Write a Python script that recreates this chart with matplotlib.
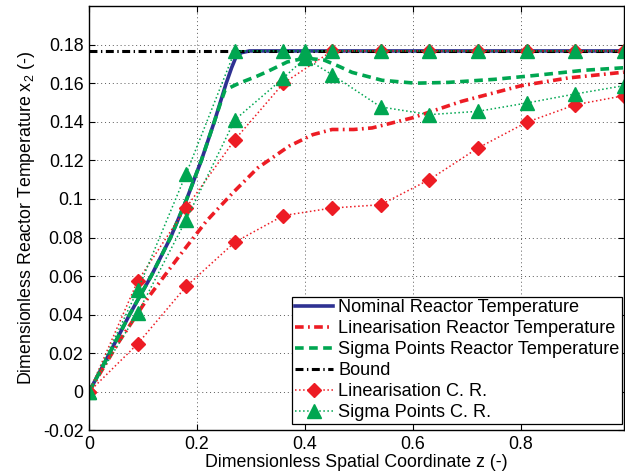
import matplotlib
matplotlib.use('Agg')
import matplotlib.pyplot as plt

plt.rcParams['font.family'] = ['Liberation Sans', 'DejaVu Sans']
plt.rcParams['mathtext.fontset'] = 'custom'
plt.rcParams['mathtext.rm'] = 'Liberation Sans'
plt.rcParams['mathtext.it'] = 'Liberation Sans:italic'

# nominal reactor temperature
z_nom = [0, 0.038, 0.075, 0.115, 0.151, 0.181, 0.208, 0.232, 0.254, 0.264, 0.272, 0.282, 0.297, 0.99]
nominal = [0, 0.02, 0.04, 0.06, 0.08, 0.10, 0.12, 0.14, 0.16, 0.168, 0.1735, 0.1758, 0.1767, 0.1767]

# linearisation reactor temperature
z_lin = [0, 0.054, 0.109, 0.169, 0.217, 0.266, 0.312, 0.37, 0.414, 0.45, 0.49, 0.524, 0.598, 0.69, 0.80, 0.887, 0.99]
lin_temp = [0, 0.0254, 0.0487, 0.0711, 0.0884, 0.1031, 0.116, 0.1273, 0.1333, 0.136, 0.136, 0.1368, 0.142, 0.1506, 0.1587, 0.1627, 0.1657]

# sigma points reactor temperature
z_sp = [0, 0.038, 0.075, 0.115, 0.151, 0.181, 0.208, 0.232, 0.245, 0.252, 0.278, 0.31, 0.33, 0.367, 0.40, 0.435,
        0.463, 0.487, 0.5425, 0.604, 0.665, 0.751, 0.825, 0.917, 0.99]
sp_temp = [0, 0.02, 0.04, 0.06, 0.08, 0.10, 0.12, 0.14, 0.151, 0.1565, 0.160, 0.1635, 0.166, 0.171, 0.173, 0.172,
           0.1687, 0.1656, 0.1615, 0.160, 0.1604, 0.162, 0.164, 0.1667, 0.168]

bound_z = [0, 0.99]
bound = [0.1767, 0.1767]

# confidence regions
z_lcr = [0, 0.09, 0.18, 0.27, 0.36, 0.45, 0.54, 0.63, 0.72, 0.81, 0.90, 0.99]
lin_upper = [0, 0.0574, 0.0955, 0.1307, 0.160, 0.1767, 0.1767, 0.1767, 0.1767, 0.1767, 0.1767, 0.1767]
lin_lower = [0, 0.0249, 0.0547, 0.0776, 0.0914, 0.0953, 0.097, 0.110, 0.1264, 0.1397, 0.1488, 0.1535]

z_scr = [0, 0.09, 0.18, 0.27, 0.36, 0.40, 0.45, 0.54, 0.63, 0.72, 0.81, 0.90, 0.99]
sp_upper = [0, 0.0527, 0.1131, 0.1767, 0.1767, 0.1767, 0.1767, 0.1767, 0.1767, 0.1767, 0.1767, 0.1767, 0.1767]
sp_lower = [0, 0.0408, 0.0893, 0.141, 0.1627, 0.173, 0.1644, 0.1477, 0.1437, 0.1454, 0.1497, 0.1544, 0.1587]

xticks = [0, 0.2, 0.4, 0.6, 0.8]
xtick_labels = ['0', '0.2', '0.4', '0.6', '0.8']
yticks = [-0.02, 0, 0.02, 0.04, 0.06, 0.08, 0.1, 0.12, 0.14, 0.16, 0.18]
ytick_labels = ['-0.02', '0', '0.02', '0.04', '0.06', '0.08', '0.1', '0.12', '0.14', '0.16', '0.18']

blue = '#2e3192'
red = '#ed1c24'
green = '#00a651'
fs = 12.8

fig = plt.figure(figsize=(6.25, 4.76), dpi=100)
ax = fig.add_axes([0.1424, 0.0956, 0.8556, 0.8918])

ax.plot(z_nom, nominal, color=blue, lw=2.6, label='Nominal Reactor Temperature')
ax.plot(z_lin, lin_temp, color=red, lw=2.6, linestyle=(0, (2.4, 1.2, 0.5, 1.2)),
        label='Linearisation Reactor Temperature')
ax.plot(z_sp, sp_temp, color=green, lw=2.6, linestyle=(0, (2.4, 1.5)),
        label='Sigma Points Reactor Temperature')
ax.plot(bound_z, bound, color='black', lw=2.2, linestyle=(0, (2.6, 1.15, 0.45, 1.15)), label='Bound')

ax.plot(z_lcr, lin_upper, color=red, lw=1.1, linestyle=':', marker='D', ms=7.5, mec=red, mfc=red,
        label='Linearisation C. R.')
ax.plot(z_lcr, lin_lower, color=red, lw=1.1, linestyle=':', marker='D', ms=7.5, mec=red, mfc=red)
ax.plot(z_scr, sp_upper, color=green, lw=1.1, linestyle=':', marker='^', ms=10, mec=green, mfc=green,
        label='Sigma Points C. R.')
ax.plot(z_scr, sp_lower, color=green, lw=1.1, linestyle=':', marker='^', ms=10, mec=green, mfc=green)

ax.set_xlim(0, 0.99)
ax.set_ylim(-0.02, 0.2)
ax.set_xticks(xticks)
ax.set_xticklabels(xtick_labels)
ax.set_yticks(yticks)
ax.set_yticklabels(ytick_labels)
ax.tick_params(direction='in', top=True, right=True, length=4, labelsize=fs, pad=4)
ax.grid(True, color='0.35', linestyle=(0, (1, 3)), lw=0.7)
for sp in ax.spines.values():
    sp.set_linewidth(1.0)

ax.set_xlabel('Dimensionless Spatial Coordinate z (-)', fontsize=fs, labelpad=1)
ax.set_ylabel(r'Dimensionless Reactor Temperature x$_2$ (-)', fontsize=fs, labelpad=4)

leg = ax.legend(loc='lower right', bbox_to_anchor=(0.997, 0.015), borderaxespad=0, fontsize=13.1,
                handlelength=2.1, handletextpad=0.28, labelspacing=0.22, borderpad=0.15,
                fancybox=False, framealpha=1, edgecolor='black')
leg.get_frame().set_linewidth(0.9)

fig.savefig('out.png', dpi=100)
